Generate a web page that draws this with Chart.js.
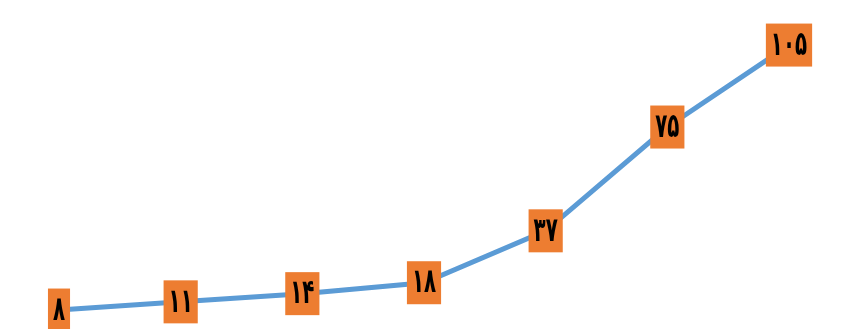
<!DOCTYPE html>
<html>
<head>
<meta charset="utf-8">
<script src="https://cdn.jsdelivr.net/npm/chart.js@4/dist/chart.umd.min.js"></script>
<style>
  html, body { margin: 0; padding: 0; background: #fff; }
  #wrap { width: 845px; height: 329px; position: relative; }
</style>
</head>
<body>
<div id="wrap"><canvas id="c"></canvas></div>
<script>
  const categories = ['1', '2', '3', '4', '5', '6', '7'];
  const values = [8, 11, 14, 18, 37, 75, 105];
  const pointLabels = ['۸', '۱۱', '۱۴', '۱۸', '۳۷', '۷۵', '۱۰۵'];

  // orange boxed value labels drawn over each point
  const boxLabels = {
    id: 'boxLabels',
    afterDatasetsDraw(chart) {
      const ctx = chart.ctx;
      const meta = chart.getDatasetMeta(0);
      const sx = 0.66, sy = 1.12;
      ctx.save();
      ctx.font = 'bold 30px "DejaVu Sans"';
      ctx.textAlign = 'center';
      ctx.textBaseline = 'middle';
      meta.data.forEach((pt, i) => {
        const txt = pointLabels[i];
        const w = ctx.measureText(txt).width * sx + 10;
        const h = 43;
        ctx.fillStyle = '#ED7D31';
        ctx.fillRect(pt.x - w / 2, pt.y - h / 2, w, h);
        ctx.save();
        ctx.translate(pt.x, pt.y + 1);
        ctx.scale(sx, sy);
        ctx.fillStyle = '#000';
        ctx.fillText(txt, 0, 0);
        ctx.restore();
      });
      ctx.restore();
    }
  };

  new Chart(document.getElementById('c'), {
    type: 'line',
    data: {
      labels: categories,
      datasets: [{
        data: values,
        borderColor: '#5B9BD5',
        borderWidth: 5,
        pointRadius: 0,
        tension: 0
      }]
    },
    options: {
      responsive: true,
      maintainAspectRatio: false,
      animation: false,
      layout: { padding: { left: 59, right: 56, top: 0, bottom: 0 } },
      plugins: { legend: { display: false }, tooltip: { enabled: false } },
      scales: {
        x: { display: false },
        y: { display: false, min: 1.06, max: 121.5 }
      }
    },
    plugins: [boxLabels]
  });
</script>
</body>
</html>
